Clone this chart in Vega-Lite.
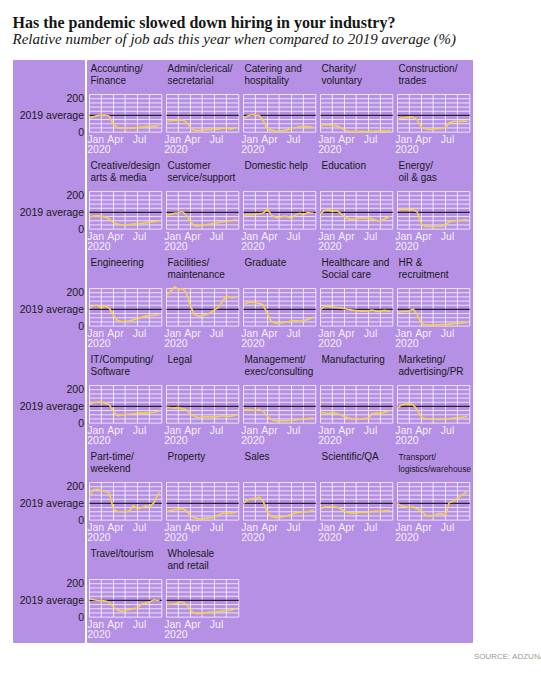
{
  "$schema": "https://vega.github.io/schema/vega-lite/v6.json",
  "background": "white",
  "padding": {"left": 12, "top": 14, "right": 4, "bottom": 2},
  "title": {
    "text": "Has the pandemic slowed down hiring in your industry?",
    "subtitle": "Relative number of job ads this year when compared to 2019 average (%)",
    "anchor": "start",
    "font": "Liberation Serif",
    "fontSize": 16,
    "fontWeight": "bold",
    "color": "#161616",
    "subtitleFont": "Liberation Serif",
    "subtitleFontSize": 15,
    "subtitleFontStyle": "italic",
    "subtitleColor": "#161616",
    "subtitlePadding": 1.5,
    "offset": 9
  },
  "spacing": 0,
  "vconcat": [
    {
      "width": 500,
      "height": 3,
      "data": {"values": []},
      "mark": "rule",
      "encoding": {}
    },
    {
      "spacing": 0,
      "hconcat": [
        {
          "width": 71,
          "height": 582,
          "data": {"values": [{}]},
          "mark": {"type": "point", "opacity": 0},
          "encoding": {
            "y": {"datum": 100, "type": "quantitative", "scale": {"domain": [-149, 3337], "nice": false, "zero": false},
              "axis": {"title": null, "values": [0, 100, 200, 581, 681, 781, 1162, 1262, 1362, 1743, 1843, 1943, 2324, 2424, 2524, 2905, 3005, 3105],
                "labelExpr": "(datum.value % 581) == 100 ? '2019 average' : '' + (datum.value % 581)",
                "orient": "left", "offset": -71, "ticks": false, "domain": false, "grid": false, "labelPadding": 0.5,
                "labelFont": "Liberation Sans", "labelFontSize": 10.5, "labelColor": "#1a1a1a", "labelOverlap": false, "labelFlush": false}}
          }
        },
        {
          "data": {
            "format": {"parse": {"d": "utc:'%Y-%m-%d'"}},
            "values": [
{"i":"Accounting/|Finance","d":"2020-01-01","v":85},{"i":"Accounting/|Finance","d":"2020-01-15","v":92},{"i":"Accounting/|Finance","d":"2020-02-01","v":100},{"i":"Accounting/|Finance","d":"2020-02-15","v":102},{"i":"Accounting/|Finance","d":"2020-03-01","v":102},{"i":"Accounting/|Finance","d":"2020-03-15","v":96},{"i":"Accounting/|Finance","d":"2020-04-01","v":45},{"i":"Accounting/|Finance","d":"2020-04-15","v":28},{"i":"Accounting/|Finance","d":"2020-05-01","v":24},{"i":"Accounting/|Finance","d":"2020-05-15","v":24},{"i":"Accounting/|Finance","d":"2020-06-01","v":25},{"i":"Accounting/|Finance","d":"2020-06-15","v":24},{"i":"Accounting/|Finance","d":"2020-07-01","v":27},{"i":"Accounting/|Finance","d":"2020-07-15","v":30},{"i":"Accounting/|Finance","d":"2020-08-01","v":33},{"i":"Accounting/|Finance","d":"2020-08-15","v":35},{"i":"Accounting/|Finance","d":"2020-09-01","v":36},{"i":"Accounting/|Finance","d":"2020-09-15","v":38},{"i":"Accounting/|Finance","d":"2020-09-22","v":40},
{"i":"Admin/clerical/|secretarial","d":"2020-01-01","v":62},{"i":"Admin/clerical/|secretarial","d":"2020-01-15","v":68},{"i":"Admin/clerical/|secretarial","d":"2020-02-01","v":70},{"i":"Admin/clerical/|secretarial","d":"2020-02-15","v":72},{"i":"Admin/clerical/|secretarial","d":"2020-03-01","v":72},{"i":"Admin/clerical/|secretarial","d":"2020-03-15","v":62},{"i":"Admin/clerical/|secretarial","d":"2020-04-01","v":25},{"i":"Admin/clerical/|secretarial","d":"2020-04-15","v":12},{"i":"Admin/clerical/|secretarial","d":"2020-05-01","v":10},{"i":"Admin/clerical/|secretarial","d":"2020-05-15","v":12},{"i":"Admin/clerical/|secretarial","d":"2020-06-01","v":14},{"i":"Admin/clerical/|secretarial","d":"2020-06-15","v":15},{"i":"Admin/clerical/|secretarial","d":"2020-07-01","v":17},{"i":"Admin/clerical/|secretarial","d":"2020-07-15","v":18},{"i":"Admin/clerical/|secretarial","d":"2020-08-01","v":24},{"i":"Admin/clerical/|secretarial","d":"2020-08-15","v":25},{"i":"Admin/clerical/|secretarial","d":"2020-09-01","v":18},{"i":"Admin/clerical/|secretarial","d":"2020-09-15","v":25},{"i":"Admin/clerical/|secretarial","d":"2020-09-22","v":30},
{"i":"Catering and|hospitality","d":"2020-01-01","v":82},{"i":"Catering and|hospitality","d":"2020-01-15","v":95},{"i":"Catering and|hospitality","d":"2020-02-01","v":105},{"i":"Catering and|hospitality","d":"2020-02-15","v":102},{"i":"Catering and|hospitality","d":"2020-03-01","v":100},{"i":"Catering and|hospitality","d":"2020-03-15","v":70},{"i":"Catering and|hospitality","d":"2020-04-01","v":20},{"i":"Catering and|hospitality","d":"2020-04-15","v":12},{"i":"Catering and|hospitality","d":"2020-05-01","v":6},{"i":"Catering and|hospitality","d":"2020-05-15","v":5},{"i":"Catering and|hospitality","d":"2020-06-01","v":10},{"i":"Catering and|hospitality","d":"2020-06-15","v":15},{"i":"Catering and|hospitality","d":"2020-07-01","v":22},{"i":"Catering and|hospitality","d":"2020-07-15","v":28},{"i":"Catering and|hospitality","d":"2020-08-01","v":32},{"i":"Catering and|hospitality","d":"2020-08-15","v":34},{"i":"Catering and|hospitality","d":"2020-09-01","v":33},{"i":"Catering and|hospitality","d":"2020-09-15","v":30},{"i":"Catering and|hospitality","d":"2020-09-22","v":28},
{"i":"Charity/|voluntary","d":"2020-01-01","v":35},{"i":"Charity/|voluntary","d":"2020-01-15","v":45},{"i":"Charity/|voluntary","d":"2020-02-01","v":45},{"i":"Charity/|voluntary","d":"2020-02-15","v":40},{"i":"Charity/|voluntary","d":"2020-03-01","v":40},{"i":"Charity/|voluntary","d":"2020-03-15","v":30},{"i":"Charity/|voluntary","d":"2020-04-01","v":12},{"i":"Charity/|voluntary","d":"2020-04-15","v":5},{"i":"Charity/|voluntary","d":"2020-05-01","v":3},{"i":"Charity/|voluntary","d":"2020-05-15","v":3},{"i":"Charity/|voluntary","d":"2020-06-01","v":3},{"i":"Charity/|voluntary","d":"2020-06-15","v":4},{"i":"Charity/|voluntary","d":"2020-07-01","v":4},{"i":"Charity/|voluntary","d":"2020-07-15","v":5},{"i":"Charity/|voluntary","d":"2020-08-01","v":5},{"i":"Charity/|voluntary","d":"2020-08-15","v":6},{"i":"Charity/|voluntary","d":"2020-09-01","v":6},{"i":"Charity/|voluntary","d":"2020-09-15","v":8},{"i":"Charity/|voluntary","d":"2020-09-22","v":10},
{"i":"Construction/|trades","d":"2020-01-01","v":72},{"i":"Construction/|trades","d":"2020-01-15","v":85},{"i":"Construction/|trades","d":"2020-02-01","v":85},{"i":"Construction/|trades","d":"2020-02-15","v":92},{"i":"Construction/|trades","d":"2020-03-01","v":88},{"i":"Construction/|trades","d":"2020-03-15","v":75},{"i":"Construction/|trades","d":"2020-04-01","v":28},{"i":"Construction/|trades","d":"2020-04-15","v":20},{"i":"Construction/|trades","d":"2020-05-01","v":16},{"i":"Construction/|trades","d":"2020-05-15","v":17},{"i":"Construction/|trades","d":"2020-06-01","v":20},{"i":"Construction/|trades","d":"2020-06-15","v":22},{"i":"Construction/|trades","d":"2020-07-01","v":28},{"i":"Construction/|trades","d":"2020-07-15","v":55},{"i":"Construction/|trades","d":"2020-08-01","v":65},{"i":"Construction/|trades","d":"2020-08-15","v":64},{"i":"Construction/|trades","d":"2020-09-01","v":66},{"i":"Construction/|trades","d":"2020-09-15","v":65},{"i":"Construction/|trades","d":"2020-09-22","v":66},
{"i":"Creative/design|arts & media","d":"2020-01-01","v":72},{"i":"Creative/design|arts & media","d":"2020-01-15","v":78},{"i":"Creative/design|arts & media","d":"2020-02-01","v":80},{"i":"Creative/design|arts & media","d":"2020-02-15","v":78},{"i":"Creative/design|arts & media","d":"2020-03-01","v":72},{"i":"Creative/design|arts & media","d":"2020-03-15","v":60},{"i":"Creative/design|arts & media","d":"2020-04-01","v":40},{"i":"Creative/design|arts & media","d":"2020-04-15","v":30},{"i":"Creative/design|arts & media","d":"2020-05-01","v":26},{"i":"Creative/design|arts & media","d":"2020-05-15","v":25},{"i":"Creative/design|arts & media","d":"2020-06-01","v":28},{"i":"Creative/design|arts & media","d":"2020-06-15","v":30},{"i":"Creative/design|arts & media","d":"2020-07-01","v":32},{"i":"Creative/design|arts & media","d":"2020-07-15","v":34},{"i":"Creative/design|arts & media","d":"2020-08-01","v":38},{"i":"Creative/design|arts & media","d":"2020-08-15","v":42},{"i":"Creative/design|arts & media","d":"2020-09-01","v":45},{"i":"Creative/design|arts & media","d":"2020-09-15","v":48},{"i":"Creative/design|arts & media","d":"2020-09-22","v":50},
{"i":"Customer|service/support","d":"2020-01-01","v":85},{"i":"Customer|service/support","d":"2020-01-15","v":88},{"i":"Customer|service/support","d":"2020-02-01","v":95},{"i":"Customer|service/support","d":"2020-02-15","v":98},{"i":"Customer|service/support","d":"2020-03-01","v":105},{"i":"Customer|service/support","d":"2020-03-15","v":85},{"i":"Customer|service/support","d":"2020-04-01","v":45},{"i":"Customer|service/support","d":"2020-04-15","v":20},{"i":"Customer|service/support","d":"2020-05-01","v":18},{"i":"Customer|service/support","d":"2020-05-15","v":25},{"i":"Customer|service/support","d":"2020-06-01","v":28},{"i":"Customer|service/support","d":"2020-06-15","v":30},{"i":"Customer|service/support","d":"2020-07-01","v":35},{"i":"Customer|service/support","d":"2020-07-15","v":40},{"i":"Customer|service/support","d":"2020-08-01","v":44},{"i":"Customer|service/support","d":"2020-08-15","v":46},{"i":"Customer|service/support","d":"2020-09-01","v":50},{"i":"Customer|service/support","d":"2020-09-15","v":55},{"i":"Customer|service/support","d":"2020-09-22","v":58},
{"i":"Domestic help","d":"2020-01-01","v":80},{"i":"Domestic help","d":"2020-01-15","v":88},{"i":"Domestic help","d":"2020-02-01","v":86},{"i":"Domestic help","d":"2020-02-15","v":90},{"i":"Domestic help","d":"2020-03-01","v":92},{"i":"Domestic help","d":"2020-03-15","v":95},{"i":"Domestic help","d":"2020-04-01","v":120},{"i":"Domestic help","d":"2020-04-15","v":85},{"i":"Domestic help","d":"2020-05-01","v":70},{"i":"Domestic help","d":"2020-05-15","v":68},{"i":"Domestic help","d":"2020-06-01","v":78},{"i":"Domestic help","d":"2020-06-15","v":75},{"i":"Domestic help","d":"2020-07-01","v":65},{"i":"Domestic help","d":"2020-07-15","v":85},{"i":"Domestic help","d":"2020-08-01","v":95},{"i":"Domestic help","d":"2020-08-15","v":85},{"i":"Domestic help","d":"2020-09-01","v":100},{"i":"Domestic help","d":"2020-09-15","v":95},{"i":"Domestic help","d":"2020-09-22","v":96},
{"i":"Education","d":"2020-01-01","v":90},{"i":"Education","d":"2020-01-15","v":112},{"i":"Education","d":"2020-02-01","v":115},{"i":"Education","d":"2020-02-15","v":105},{"i":"Education","d":"2020-03-01","v":112},{"i":"Education","d":"2020-03-15","v":98},{"i":"Education","d":"2020-04-01","v":72},{"i":"Education","d":"2020-04-15","v":62},{"i":"Education","d":"2020-05-01","v":58},{"i":"Education","d":"2020-05-15","v":62},{"i":"Education","d":"2020-06-01","v":68},{"i":"Education","d":"2020-06-15","v":66},{"i":"Education","d":"2020-07-01","v":65},{"i":"Education","d":"2020-07-15","v":60},{"i":"Education","d":"2020-08-01","v":52},{"i":"Education","d":"2020-08-15","v":50},{"i":"Education","d":"2020-09-01","v":62},{"i":"Education","d":"2020-09-15","v":72},{"i":"Education","d":"2020-09-22","v":78},
{"i":"Energy/|oil & gas","d":"2020-01-01","v":115},{"i":"Energy/|oil & gas","d":"2020-01-15","v":118},{"i":"Energy/|oil & gas","d":"2020-02-01","v":120},{"i":"Energy/|oil & gas","d":"2020-02-15","v":118},{"i":"Energy/|oil & gas","d":"2020-03-01","v":116},{"i":"Energy/|oil & gas","d":"2020-03-15","v":105},{"i":"Energy/|oil & gas","d":"2020-04-01","v":30},{"i":"Energy/|oil & gas","d":"2020-04-15","v":18},{"i":"Energy/|oil & gas","d":"2020-05-01","v":16},{"i":"Energy/|oil & gas","d":"2020-05-15","v":16},{"i":"Energy/|oil & gas","d":"2020-06-01","v":17},{"i":"Energy/|oil & gas","d":"2020-06-15","v":18},{"i":"Energy/|oil & gas","d":"2020-07-01","v":22},{"i":"Energy/|oil & gas","d":"2020-07-15","v":45},{"i":"Energy/|oil & gas","d":"2020-08-01","v":50},{"i":"Energy/|oil & gas","d":"2020-08-15","v":52},{"i":"Energy/|oil & gas","d":"2020-09-01","v":54},{"i":"Energy/|oil & gas","d":"2020-09-15","v":56},{"i":"Energy/|oil & gas","d":"2020-09-22","v":58},
{"i":"Engineering","d":"2020-01-01","v":108},{"i":"Engineering","d":"2020-01-15","v":122},{"i":"Engineering","d":"2020-02-01","v":125},{"i":"Engineering","d":"2020-02-15","v":108},{"i":"Engineering","d":"2020-03-01","v":122},{"i":"Engineering","d":"2020-03-15","v":110},{"i":"Engineering","d":"2020-04-01","v":65},{"i":"Engineering","d":"2020-04-15","v":35},{"i":"Engineering","d":"2020-05-01","v":28},{"i":"Engineering","d":"2020-05-15","v":28},{"i":"Engineering","d":"2020-06-01","v":32},{"i":"Engineering","d":"2020-06-15","v":38},{"i":"Engineering","d":"2020-07-01","v":45},{"i":"Engineering","d":"2020-07-15","v":52},{"i":"Engineering","d":"2020-08-01","v":60},{"i":"Engineering","d":"2020-08-15","v":63},{"i":"Engineering","d":"2020-09-01","v":65},{"i":"Engineering","d":"2020-09-15","v":68},{"i":"Engineering","d":"2020-09-22","v":70},
{"i":"Facilities/|maintenance","d":"2020-01-01","v":185},{"i":"Facilities/|maintenance","d":"2020-01-15","v":205},{"i":"Facilities/|maintenance","d":"2020-02-01","v":235},{"i":"Facilities/|maintenance","d":"2020-02-15","v":220},{"i":"Facilities/|maintenance","d":"2020-03-01","v":225},{"i":"Facilities/|maintenance","d":"2020-03-15","v":205},{"i":"Facilities/|maintenance","d":"2020-04-01","v":120},{"i":"Facilities/|maintenance","d":"2020-04-15","v":70},{"i":"Facilities/|maintenance","d":"2020-05-01","v":60},{"i":"Facilities/|maintenance","d":"2020-05-15","v":62},{"i":"Facilities/|maintenance","d":"2020-06-01","v":68},{"i":"Facilities/|maintenance","d":"2020-06-15","v":80},{"i":"Facilities/|maintenance","d":"2020-07-01","v":98},{"i":"Facilities/|maintenance","d":"2020-07-15","v":110},{"i":"Facilities/|maintenance","d":"2020-08-01","v":150},{"i":"Facilities/|maintenance","d":"2020-08-15","v":180},{"i":"Facilities/|maintenance","d":"2020-09-01","v":170},{"i":"Facilities/|maintenance","d":"2020-09-15","v":172},{"i":"Facilities/|maintenance","d":"2020-09-22","v":175},
{"i":"Graduate","d":"2020-01-01","v":130},{"i":"Graduate","d":"2020-01-15","v":140},{"i":"Graduate","d":"2020-02-01","v":145},{"i":"Graduate","d":"2020-02-15","v":140},{"i":"Graduate","d":"2020-03-01","v":135},{"i":"Graduate","d":"2020-03-15","v":130},{"i":"Graduate","d":"2020-04-01","v":70},{"i":"Graduate","d":"2020-04-15","v":30},{"i":"Graduate","d":"2020-05-01","v":18},{"i":"Graduate","d":"2020-05-15","v":17},{"i":"Graduate","d":"2020-06-01","v":22},{"i":"Graduate","d":"2020-06-15","v":25},{"i":"Graduate","d":"2020-07-01","v":30},{"i":"Graduate","d":"2020-07-15","v":32},{"i":"Graduate","d":"2020-08-01","v":30},{"i":"Graduate","d":"2020-08-15","v":32},{"i":"Graduate","d":"2020-09-01","v":40},{"i":"Graduate","d":"2020-09-15","v":48},{"i":"Graduate","d":"2020-09-22","v":56},
{"i":"Healthcare and|Social care","d":"2020-01-01","v":98},{"i":"Healthcare and|Social care","d":"2020-01-15","v":118},{"i":"Healthcare and|Social care","d":"2020-02-01","v":118},{"i":"Healthcare and|Social care","d":"2020-02-15","v":115},{"i":"Healthcare and|Social care","d":"2020-03-01","v":112},{"i":"Healthcare and|Social care","d":"2020-03-15","v":110},{"i":"Healthcare and|Social care","d":"2020-04-01","v":105},{"i":"Healthcare and|Social care","d":"2020-04-15","v":100},{"i":"Healthcare and|Social care","d":"2020-05-01","v":96},{"i":"Healthcare and|Social care","d":"2020-05-15","v":94},{"i":"Healthcare and|Social care","d":"2020-06-01","v":90},{"i":"Healthcare and|Social care","d":"2020-06-15","v":90},{"i":"Healthcare and|Social care","d":"2020-07-01","v":92},{"i":"Healthcare and|Social care","d":"2020-07-15","v":96},{"i":"Healthcare and|Social care","d":"2020-08-01","v":88},{"i":"Healthcare and|Social care","d":"2020-08-15","v":90},{"i":"Healthcare and|Social care","d":"2020-09-01","v":94},{"i":"Healthcare and|Social care","d":"2020-09-15","v":88},{"i":"Healthcare and|Social care","d":"2020-09-22","v":92},
{"i":"HR &|recruitment","d":"2020-01-01","v":82},{"i":"HR &|recruitment","d":"2020-01-15","v":88},{"i":"HR &|recruitment","d":"2020-02-01","v":88},{"i":"HR &|recruitment","d":"2020-02-15","v":92},{"i":"HR &|recruitment","d":"2020-03-01","v":102},{"i":"HR &|recruitment","d":"2020-03-15","v":70},{"i":"HR &|recruitment","d":"2020-04-01","v":15},{"i":"HR &|recruitment","d":"2020-04-15","v":8},{"i":"HR &|recruitment","d":"2020-05-01","v":6},{"i":"HR &|recruitment","d":"2020-05-15","v":6},{"i":"HR &|recruitment","d":"2020-06-01","v":8},{"i":"HR &|recruitment","d":"2020-06-15","v":10},{"i":"HR &|recruitment","d":"2020-07-01","v":10},{"i":"HR &|recruitment","d":"2020-07-15","v":12},{"i":"HR &|recruitment","d":"2020-08-01","v":15},{"i":"HR &|recruitment","d":"2020-08-15","v":17},{"i":"HR &|recruitment","d":"2020-09-01","v":18},{"i":"HR &|recruitment","d":"2020-09-15","v":22},{"i":"HR &|recruitment","d":"2020-09-22","v":24},
{"i":"IT/Computing/|Software","d":"2020-01-01","v":112},{"i":"IT/Computing/|Software","d":"2020-01-15","v":122},{"i":"IT/Computing/|Software","d":"2020-02-01","v":126},{"i":"IT/Computing/|Software","d":"2020-02-15","v":128},{"i":"IT/Computing/|Software","d":"2020-03-01","v":118},{"i":"IT/Computing/|Software","d":"2020-03-15","v":112},{"i":"IT/Computing/|Software","d":"2020-04-01","v":70},{"i":"IT/Computing/|Software","d":"2020-04-15","v":45},{"i":"IT/Computing/|Software","d":"2020-05-01","v":48},{"i":"IT/Computing/|Software","d":"2020-05-15","v":52},{"i":"IT/Computing/|Software","d":"2020-06-01","v":55},{"i":"IT/Computing/|Software","d":"2020-06-15","v":56},{"i":"IT/Computing/|Software","d":"2020-07-01","v":58},{"i":"IT/Computing/|Software","d":"2020-07-15","v":60},{"i":"IT/Computing/|Software","d":"2020-08-01","v":60},{"i":"IT/Computing/|Software","d":"2020-08-15","v":62},{"i":"IT/Computing/|Software","d":"2020-09-01","v":65},{"i":"IT/Computing/|Software","d":"2020-09-15","v":70},{"i":"IT/Computing/|Software","d":"2020-09-22","v":74},
{"i":"Legal","d":"2020-01-01","v":95},{"i":"Legal","d":"2020-01-15","v":92},{"i":"Legal","d":"2020-02-01","v":90},{"i":"Legal","d":"2020-02-15","v":94},{"i":"Legal","d":"2020-03-01","v":86},{"i":"Legal","d":"2020-03-15","v":80},{"i":"Legal","d":"2020-04-01","v":55},{"i":"Legal","d":"2020-04-15","v":42},{"i":"Legal","d":"2020-05-01","v":32},{"i":"Legal","d":"2020-05-15","v":38},{"i":"Legal","d":"2020-06-01","v":38},{"i":"Legal","d":"2020-06-15","v":40},{"i":"Legal","d":"2020-07-01","v":36},{"i":"Legal","d":"2020-07-15","v":40},{"i":"Legal","d":"2020-08-01","v":44},{"i":"Legal","d":"2020-08-15","v":40},{"i":"Legal","d":"2020-09-01","v":42},{"i":"Legal","d":"2020-09-15","v":46},{"i":"Legal","d":"2020-09-22","v":52},
{"i":"Management/|exec/consulting","d":"2020-01-01","v":78},{"i":"Management/|exec/consulting","d":"2020-01-15","v":80},{"i":"Management/|exec/consulting","d":"2020-02-01","v":78},{"i":"Management/|exec/consulting","d":"2020-02-15","v":76},{"i":"Management/|exec/consulting","d":"2020-03-01","v":82},{"i":"Management/|exec/consulting","d":"2020-03-15","v":72},{"i":"Management/|exec/consulting","d":"2020-04-01","v":40},{"i":"Management/|exec/consulting","d":"2020-04-15","v":22},{"i":"Management/|exec/consulting","d":"2020-05-01","v":14},{"i":"Management/|exec/consulting","d":"2020-05-15","v":12},{"i":"Management/|exec/consulting","d":"2020-06-01","v":14},{"i":"Management/|exec/consulting","d":"2020-06-15","v":15},{"i":"Management/|exec/consulting","d":"2020-07-01","v":17},{"i":"Management/|exec/consulting","d":"2020-07-15","v":19},{"i":"Management/|exec/consulting","d":"2020-08-01","v":22},{"i":"Management/|exec/consulting","d":"2020-08-15","v":24},{"i":"Management/|exec/consulting","d":"2020-09-01","v":27},{"i":"Management/|exec/consulting","d":"2020-09-15","v":30},{"i":"Management/|exec/consulting","d":"2020-09-22","v":32},
{"i":"Manufacturing","d":"2020-01-01","v":64},{"i":"Manufacturing","d":"2020-01-15","v":62},{"i":"Manufacturing","d":"2020-02-01","v":56},{"i":"Manufacturing","d":"2020-02-15","v":64},{"i":"Manufacturing","d":"2020-03-01","v":58},{"i":"Manufacturing","d":"2020-03-15","v":52},{"i":"Manufacturing","d":"2020-04-01","v":38},{"i":"Manufacturing","d":"2020-04-15","v":32},{"i":"Manufacturing","d":"2020-05-01","v":24},{"i":"Manufacturing","d":"2020-05-15","v":22},{"i":"Manufacturing","d":"2020-06-01","v":26},{"i":"Manufacturing","d":"2020-06-15","v":28},{"i":"Manufacturing","d":"2020-07-01","v":30},{"i":"Manufacturing","d":"2020-07-15","v":58},{"i":"Manufacturing","d":"2020-08-01","v":60},{"i":"Manufacturing","d":"2020-08-15","v":56},{"i":"Manufacturing","d":"2020-09-01","v":66},{"i":"Manufacturing","d":"2020-09-15","v":72},{"i":"Manufacturing","d":"2020-09-22","v":78},
{"i":"Marketing/|advertising/PR","d":"2020-01-01","v":92},{"i":"Marketing/|advertising/PR","d":"2020-01-15","v":108},{"i":"Marketing/|advertising/PR","d":"2020-02-01","v":114},{"i":"Marketing/|advertising/PR","d":"2020-02-15","v":115},{"i":"Marketing/|advertising/PR","d":"2020-03-01","v":110},{"i":"Marketing/|advertising/PR","d":"2020-03-15","v":80},{"i":"Marketing/|advertising/PR","d":"2020-04-01","v":35},{"i":"Marketing/|advertising/PR","d":"2020-04-15","v":26},{"i":"Marketing/|advertising/PR","d":"2020-05-01","v":23},{"i":"Marketing/|advertising/PR","d":"2020-05-15","v":22},{"i":"Marketing/|advertising/PR","d":"2020-06-01","v":22},{"i":"Marketing/|advertising/PR","d":"2020-06-15","v":24},{"i":"Marketing/|advertising/PR","d":"2020-07-01","v":26},{"i":"Marketing/|advertising/PR","d":"2020-07-15","v":28},{"i":"Marketing/|advertising/PR","d":"2020-08-01","v":31},{"i":"Marketing/|advertising/PR","d":"2020-08-15","v":33},{"i":"Marketing/|advertising/PR","d":"2020-09-01","v":35},{"i":"Marketing/|advertising/PR","d":"2020-09-15","v":38},{"i":"Marketing/|advertising/PR","d":"2020-09-22","v":41},
{"i":"Part-time/|weekend","d":"2020-01-01","v":140},{"i":"Part-time/|weekend","d":"2020-01-15","v":182},{"i":"Part-time/|weekend","d":"2020-02-01","v":185},{"i":"Part-time/|weekend","d":"2020-02-15","v":178},{"i":"Part-time/|weekend","d":"2020-03-01","v":170},{"i":"Part-time/|weekend","d":"2020-03-15","v":165},{"i":"Part-time/|weekend","d":"2020-04-01","v":65},{"i":"Part-time/|weekend","d":"2020-04-15","v":52},{"i":"Part-time/|weekend","d":"2020-05-01","v":50},{"i":"Part-time/|weekend","d":"2020-05-15","v":50},{"i":"Part-time/|weekend","d":"2020-06-01","v":55},{"i":"Part-time/|weekend","d":"2020-06-15","v":86},{"i":"Part-time/|weekend","d":"2020-07-01","v":66},{"i":"Part-time/|weekend","d":"2020-07-15","v":74},{"i":"Part-time/|weekend","d":"2020-08-01","v":84},{"i":"Part-time/|weekend","d":"2020-08-15","v":78},{"i":"Part-time/|weekend","d":"2020-09-01","v":104},{"i":"Part-time/|weekend","d":"2020-09-15","v":150},{"i":"Part-time/|weekend","d":"2020-09-22","v":168},
{"i":"Property","d":"2020-01-01","v":52},{"i":"Property","d":"2020-01-15","v":58},{"i":"Property","d":"2020-02-01","v":62},{"i":"Property","d":"2020-02-15","v":66},{"i":"Property","d":"2020-03-01","v":70},{"i":"Property","d":"2020-03-15","v":58},{"i":"Property","d":"2020-04-01","v":30},{"i":"Property","d":"2020-04-15","v":14},{"i":"Property","d":"2020-05-01","v":8},{"i":"Property","d":"2020-05-15","v":8},{"i":"Property","d":"2020-06-01","v":12},{"i":"Property","d":"2020-06-15","v":14},{"i":"Property","d":"2020-07-01","v":16},{"i":"Property","d":"2020-07-15","v":30},{"i":"Property","d":"2020-08-01","v":42},{"i":"Property","d":"2020-08-15","v":40},{"i":"Property","d":"2020-09-01","v":42},{"i":"Property","d":"2020-09-15","v":44},{"i":"Property","d":"2020-09-22","v":46},
{"i":"Sales","d":"2020-01-01","v":100},{"i":"Sales","d":"2020-01-15","v":120},{"i":"Sales","d":"2020-02-01","v":128},{"i":"Sales","d":"2020-02-15","v":130},{"i":"Sales","d":"2020-03-01","v":138},{"i":"Sales","d":"2020-03-15","v":115},{"i":"Sales","d":"2020-04-01","v":45},{"i":"Sales","d":"2020-04-15","v":20},{"i":"Sales","d":"2020-05-01","v":15},{"i":"Sales","d":"2020-05-15","v":16},{"i":"Sales","d":"2020-06-01","v":22},{"i":"Sales","d":"2020-06-15","v":26},{"i":"Sales","d":"2020-07-01","v":34},{"i":"Sales","d":"2020-07-15","v":42},{"i":"Sales","d":"2020-08-01","v":48},{"i":"Sales","d":"2020-08-15","v":48},{"i":"Sales","d":"2020-09-01","v":52},{"i":"Sales","d":"2020-09-15","v":56},{"i":"Sales","d":"2020-09-22","v":60},
{"i":"Scientific/QA","d":"2020-01-01","v":68},{"i":"Scientific/QA","d":"2020-01-15","v":78},{"i":"Scientific/QA","d":"2020-02-01","v":80},{"i":"Scientific/QA","d":"2020-02-15","v":80},{"i":"Scientific/QA","d":"2020-03-01","v":78},{"i":"Scientific/QA","d":"2020-03-15","v":70},{"i":"Scientific/QA","d":"2020-04-01","v":55},{"i":"Scientific/QA","d":"2020-04-15","v":45},{"i":"Scientific/QA","d":"2020-05-01","v":42},{"i":"Scientific/QA","d":"2020-05-15","v":44},{"i":"Scientific/QA","d":"2020-06-01","v":46},{"i":"Scientific/QA","d":"2020-06-15","v":46},{"i":"Scientific/QA","d":"2020-07-01","v":48},{"i":"Scientific/QA","d":"2020-07-15","v":52},{"i":"Scientific/QA","d":"2020-08-01","v":54},{"i":"Scientific/QA","d":"2020-08-15","v":52},{"i":"Scientific/QA","d":"2020-09-01","v":56},{"i":"Scientific/QA","d":"2020-09-15","v":58},{"i":"Scientific/QA","d":"2020-09-22","v":58},
{"i":"Transport/|logistics/warehouse","d":"2020-01-01","v":100},{"i":"Transport/|logistics/warehouse","d":"2020-01-15","v":86},{"i":"Transport/|logistics/warehouse","d":"2020-02-01","v":80},{"i":"Transport/|logistics/warehouse","d":"2020-02-15","v":76},{"i":"Transport/|logistics/warehouse","d":"2020-03-01","v":80},{"i":"Transport/|logistics/warehouse","d":"2020-03-15","v":66},{"i":"Transport/|logistics/warehouse","d":"2020-04-01","v":60},{"i":"Transport/|logistics/warehouse","d":"2020-04-15","v":30},{"i":"Transport/|logistics/warehouse","d":"2020-05-01","v":25},{"i":"Transport/|logistics/warehouse","d":"2020-05-15","v":24},{"i":"Transport/|logistics/warehouse","d":"2020-06-01","v":36},{"i":"Transport/|logistics/warehouse","d":"2020-06-15","v":38},{"i":"Transport/|logistics/warehouse","d":"2020-07-01","v":30},{"i":"Transport/|logistics/warehouse","d":"2020-07-15","v":105},{"i":"Transport/|logistics/warehouse","d":"2020-08-01","v":115},{"i":"Transport/|logistics/warehouse","d":"2020-08-15","v":132},{"i":"Transport/|logistics/warehouse","d":"2020-09-01","v":150},{"i":"Transport/|logistics/warehouse","d":"2020-09-15","v":165},{"i":"Transport/|logistics/warehouse","d":"2020-09-22","v":170},
{"i":"Travel/tourism","d":"2020-01-01","v":110},{"i":"Travel/tourism","d":"2020-01-15","v":106},{"i":"Travel/tourism","d":"2020-02-01","v":100},{"i":"Travel/tourism","d":"2020-02-15","v":100},{"i":"Travel/tourism","d":"2020-03-01","v":96},{"i":"Travel/tourism","d":"2020-03-15","v":90},{"i":"Travel/tourism","d":"2020-04-01","v":60},{"i":"Travel/tourism","d":"2020-04-15","v":42},{"i":"Travel/tourism","d":"2020-05-01","v":36},{"i":"Travel/tourism","d":"2020-05-15","v":38},{"i":"Travel/tourism","d":"2020-06-01","v":46},{"i":"Travel/tourism","d":"2020-06-15","v":50},{"i":"Travel/tourism","d":"2020-07-01","v":54},{"i":"Travel/tourism","d":"2020-07-15","v":78},{"i":"Travel/tourism","d":"2020-08-01","v":84},{"i":"Travel/tourism","d":"2020-08-15","v":90},{"i":"Travel/tourism","d":"2020-09-01","v":104},{"i":"Travel/tourism","d":"2020-09-15","v":100},{"i":"Travel/tourism","d":"2020-09-22","v":102},
{"i":"Wholesale|and retail","d":"2020-01-01","v":76},{"i":"Wholesale|and retail","d":"2020-01-15","v":78},{"i":"Wholesale|and retail","d":"2020-02-01","v":80},{"i":"Wholesale|and retail","d":"2020-02-15","v":88},{"i":"Wholesale|and retail","d":"2020-03-01","v":90},{"i":"Wholesale|and retail","d":"2020-03-15","v":78},{"i":"Wholesale|and retail","d":"2020-04-01","v":40},{"i":"Wholesale|and retail","d":"2020-04-15","v":24},{"i":"Wholesale|and retail","d":"2020-05-01","v":20},{"i":"Wholesale|and retail","d":"2020-05-15","v":24},{"i":"Wholesale|and retail","d":"2020-06-01","v":28},{"i":"Wholesale|and retail","d":"2020-06-15","v":30},{"i":"Wholesale|and retail","d":"2020-07-01","v":30},{"i":"Wholesale|and retail","d":"2020-07-15","v":34},{"i":"Wholesale|and retail","d":"2020-08-01","v":36},{"i":"Wholesale|and retail","d":"2020-08-15","v":38},{"i":"Wholesale|and retail","d":"2020-09-01","v":42},{"i":"Wholesale|and retail","d":"2020-09-15","v":48},{"i":"Wholesale|and retail","d":"2020-09-22","v":52},
{"i":"~1"},{"i":"~2"},{"i":"~3"}
            ]
          },
          "facet": {
            "field": "i",
            "type": "nominal",
            "header": {"labels": false, "title": null, "labelExpr": "''", "labelFontSize": 0.01, "labelPadding": 0, "titlePadding": 0},
            "title": null,
            "sort": ["Accounting/|Finance","Admin/clerical/|secretarial","Catering and|hospitality","Charity/|voluntary","Construction/|trades","Creative/design|arts & media","Customer|service/support","Domestic help","Education","Energy/|oil & gas","Engineering","Facilities/|maintenance","Graduate","Healthcare and|Social care","HR &|recruitment","IT/Computing/|Software","Legal","Management/|exec/consulting","Manufacturing","Marketing/|advertising/PR","Part-time/|weekend","Property","Sales","Scientific/QA","Transport/|logistics/warehouse","Travel/tourism","Wholesale|and retail","~1","~2","~3"]
          },
          "columns": 5,
          "spacing": 0,
          "bounds": "flush",
          "spec": {
            "width": 77,
            "height": 97,
            "layer": [
              {"transform": [{"filter": "datum.v != null && utcmonth(datum.d) == 0 && utcdate(datum.d) == 1"}],
               "mark": {"type": "rule", "color": "#ffffff", "strokeWidth": 1, "opacity": 0.75},
               "encoding": {"x": {"datum": {"year": 2020, "month": 1, "date": 1, "utc": true}, "type": "temporal"}, "x2": {"datum": {"year": 2020, "month": 10, "date": 1, "utc": true}}, "y": {"datum": 0, "axis": null}}},
              {"transform": [{"filter": "datum.v != null && utcmonth(datum.d) == 0 && utcdate(datum.d) == 1"}],
               "mark": {"type": "rule", "color": "#ffffff", "strokeWidth": 1, "opacity": 0.75},
               "encoding": {"x": {"datum": {"year": 2020, "month": 1, "date": 1, "utc": true}, "type": "temporal"}, "x2": {"datum": {"year": 2020, "month": 10, "date": 1, "utc": true}}, "y": {"datum": 25, "axis": null}}},
              {"transform": [{"filter": "datum.v != null && utcmonth(datum.d) == 0 && utcdate(datum.d) == 1"}],
               "mark": {"type": "rule", "color": "#ffffff", "strokeWidth": 1, "opacity": 0.75},
               "encoding": {"x": {"datum": {"year": 2020, "month": 1, "date": 1, "utc": true}, "type": "temporal"}, "x2": {"datum": {"year": 2020, "month": 10, "date": 1, "utc": true}}, "y": {"datum": 50, "axis": null}}},
              {"transform": [{"filter": "datum.v != null && utcmonth(datum.d) == 0 && utcdate(datum.d) == 1"}],
               "mark": {"type": "rule", "color": "#ffffff", "strokeWidth": 1, "opacity": 0.75},
               "encoding": {"x": {"datum": {"year": 2020, "month": 1, "date": 1, "utc": true}, "type": "temporal"}, "x2": {"datum": {"year": 2020, "month": 10, "date": 1, "utc": true}}, "y": {"datum": 75, "axis": null}}},
              {"transform": [{"filter": "datum.v != null && utcmonth(datum.d) == 0 && utcdate(datum.d) == 1"}],
               "mark": {"type": "rule", "color": "#ffffff", "strokeWidth": 1, "opacity": 0.75},
               "encoding": {"x": {"datum": {"year": 2020, "month": 1, "date": 1, "utc": true}, "type": "temporal"}, "x2": {"datum": {"year": 2020, "month": 10, "date": 1, "utc": true}}, "y": {"datum": 125, "axis": null}}},
              {"transform": [{"filter": "datum.v != null && utcmonth(datum.d) == 0 && utcdate(datum.d) == 1"}],
               "mark": {"type": "rule", "color": "#ffffff", "strokeWidth": 1, "opacity": 0.75},
               "encoding": {"x": {"datum": {"year": 2020, "month": 1, "date": 1, "utc": true}, "type": "temporal"}, "x2": {"datum": {"year": 2020, "month": 10, "date": 1, "utc": true}}, "y": {"datum": 150, "axis": null}}},
              {"transform": [{"filter": "datum.v != null && utcmonth(datum.d) == 0 && utcdate(datum.d) == 1"}],
               "mark": {"type": "rule", "color": "#ffffff", "strokeWidth": 1, "opacity": 0.75},
               "encoding": {"x": {"datum": {"year": 2020, "month": 1, "date": 1, "utc": true}, "type": "temporal"}, "x2": {"datum": {"year": 2020, "month": 10, "date": 1, "utc": true}}, "y": {"datum": 175, "axis": null}}},
              {"transform": [{"filter": "datum.v != null && utcmonth(datum.d) == 0 && utcdate(datum.d) == 1"}],
               "mark": {"type": "rule", "color": "#ffffff", "strokeWidth": 1, "opacity": 0.75},
               "encoding": {"x": {"datum": {"year": 2020, "month": 1, "date": 1, "utc": true}, "type": "temporal"}, "x2": {"datum": {"year": 2020, "month": 10, "date": 1, "utc": true}}, "y": {"datum": 200, "axis": null}}},
              {"transform": [{"filter": "datum.v != null && utcmonth(datum.d) == 0 && utcdate(datum.d) == 1"}],
               "mark": {"type": "rule", "color": "#ffffff", "strokeWidth": 1, "opacity": 0.75},
               "encoding": {"x": {"datum": {"year": 2020, "month": 1, "date": 1, "utc": true}, "type": "temporal"}, "x2": {"datum": {"year": 2020, "month": 10, "date": 1, "utc": true}}, "y": {"datum": 225, "axis": null}}},
              {"transform": [{"filter": "datum.v != null && ((utcdate(datum.d) == 1 && utcmonth(datum.d) % 3 == 0) || (utcdate(datum.d) == 15 && utcmonth(datum.d) % 3 == 1))"}],
               "mark": {"type": "rule", "color": "#ffffff", "strokeWidth": 1, "opacity": 0.75},
               "encoding": {"x": {"field": "d", "type": "temporal"}, "y": {"datum": 0, "axis": null}, "y2": {"datum": 225}}},
              {"transform": [{"filter": "datum.v != null && utcmonth(datum.d) == 0 && utcdate(datum.d) == 1"}],
               "mark": {"type": "rule", "color": "#ffffff", "strokeWidth": 1, "opacity": 0.75},
               "encoding": {"x": {"datum": {"year": 2020, "month": 10, "date": 1, "utc": true}, "type": "temporal"}, "y": {"datum": 0, "axis": null}, "y2": {"datum": 225}}},
              {"transform": [{"filter": "datum.v != null && utcmonth(datum.d) == 0 && utcdate(datum.d) == 1"}],
               "mark": {"type": "rule", "color": "#2a2130", "strokeWidth": 1.3},
               "encoding": {"x": {"datum": {"year": 2020, "month": 1, "date": 1, "utc": true}, "type": "temporal"}, "x2": {"datum": {"year": 2020, "month": 10, "date": 1, "utc": true}}, "y": {"datum": 100, "axis": null}}},
              {"mark": {"type": "line", "color": "#f6d04d", "strokeWidth": 1.6},
               "encoding": {
                 "x": {"field": "d", "type": "temporal", "scale": {"type": "utc", "domain": [{"year": 2019, "month": 12, "date": 22, "hours": 13, "utc": true}, {"year": 2020, "month": 10, "date": 9, "hours": 8, "utc": true}]}},
                 "y": {"field": "v", "type": "quantitative", "scale": {"domain": [-149, 432], "nice": false, "zero": false}, "axis": null}
               }},
              {"transform": [{"filter": "datum.v != null && utcmonth(datum.d) == 0 && utcdate(datum.d) == 1"}],
               "mark": {"type": "text", "align": "left", "baseline": "alphabetic", "lineBreak": "|", "lineHeight": 12, "dx": 1,
                 "font": "Liberation Sans", "color": "#1a1a1a"},
               "encoding": {"x": {"datum": {"year": 2020, "month": 1, "date": 1, "utc": true}, "type": "temporal"}, "y": {"datum": 360, "axis": null}, "text": {"field": "i"},
                 "size": {"condition": {"test": "length(datum.i) > 29", "value": 8.3}, "value": 10}}},
              {"transform": [{"filter": "datum.v != null && utcdate(datum.d) == 1 && (utcmonth(datum.d) == 3 || utcmonth(datum.d) == 6)"}],
               "mark": {"type": "text", "align": "center", "baseline": "alphabetic", "dx": 2,
                 "font": "Liberation Sans", "fontSize": 10.5, "color": "#f4effb"},
               "encoding": {"x": {"field": "d", "type": "temporal"}, "y": {"datum": -66, "axis": null}, "text": {"field": "d", "timeUnit": "utcmonth", "type": "temporal", "format": "%b"}}},
              {"transform": [{"filter": "datum.v != null && utcmonth(datum.d) == 0 && utcdate(datum.d) == 1"}],
               "mark": {"type": "text", "align": "left", "baseline": "alphabetic", "dx": -2.3,
                 "font": "Liberation Sans", "fontSize": 10.5, "color": "#f4effb"},
               "encoding": {"x": {"field": "d", "type": "temporal"}, "y": {"datum": -66, "axis": null}, "text": {"field": "d", "timeUnit": "utcmonth", "type": "temporal", "format": "%b"}}},
              {"transform": [{"filter": "datum.v != null && utcmonth(datum.d) == 0 && utcdate(datum.d) == 1"}],
               "mark": {"type": "text", "align": "left", "baseline": "alphabetic", "dx": -2.3,
                 "font": "Liberation Sans", "fontSize": 10.5, "color": "#f4effb"},
               "encoding": {"x": {"field": "d", "type": "temporal"}, "y": {"datum": -127, "axis": null}, "text": {"field": "d", "timeUnit": "utcyear", "type": "temporal", "format": "%Y"}}}
            ]
          }
        },
        {
          "width": 43,
          "height": 582,
          "data": {"values": []},
          "mark": "rule",
          "encoding": {},
          "title": {"text": "SOURCE: ADZUNA", "orient": "bottom", "anchor": "end", "fontSize": 8, "fontWeight": "normal", "color": "#9a9a9a",
            "font": "Liberation Sans", "offset": 11, "limit": 300}
        }
      ]
    }
  ],
  "config": {
    "view": {"fill": "#b590e5", "stroke": "#b590e5", "strokeWidth": 1},
    "axisX": {"disable": true}
  }
}
